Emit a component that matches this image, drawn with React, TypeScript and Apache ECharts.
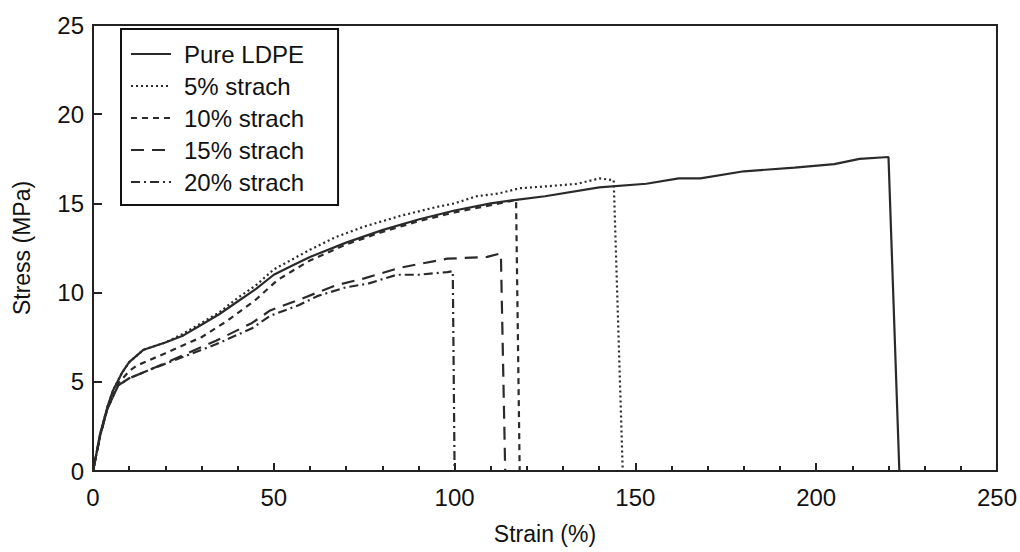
import React, { useEffect, useRef } from "react";
import * as echarts from "echarts";

// Pure LDPE
const strainPure = [0, 0.5, 2, 4, 5.5, 8, 10, 14, 20, 25, 30, 35, 40, 45, 50, 55, 60, 70, 80, 90, 100, 110, 117, 125, 140, 153, 162, 168, 180, 194, 205, 212, 220, 223];
const stressPure = [0, 0.5, 2.1, 3.6, 4.5, 5.5, 6.1, 6.8, 7.2, 7.6, 8.2, 8.8, 9.5, 10.2, 11.0, 11.5, 12.0, 12.8, 13.5, 14.1, 14.6, 15.0, 15.2, 15.4, 15.9, 16.1, 16.4, 16.4, 16.8, 17.0, 17.2, 17.5, 17.6, 0];
// 5% strach
const strain5 = [0, 0.5, 2, 4, 5.5, 8, 10, 14, 20, 25, 30, 35, 40, 45, 50, 60, 67, 75, 85, 95, 100, 106, 112, 118, 125, 134, 140, 144, 146.5];
const stress5 = [0, 0.5, 2.1, 3.6, 4.5, 5.5, 6.1, 6.8, 7.2, 7.7, 8.3, 8.9, 9.7, 10.4, 11.3, 12.4, 13.1, 13.7, 14.3, 14.8, 15.0, 15.4, 15.55, 15.85, 15.95, 16.1, 16.4, 16.3, 0];
// 10% strach
const strain10 = [0, 2, 4, 7, 10, 12, 20, 30, 37, 45, 51, 55, 60, 70, 80, 90, 100, 110, 117, 118];
const stress10 = [0, 2.0, 3.5, 4.9, 5.6, 5.9, 6.6, 7.5, 8.4, 9.6, 10.7, 11.2, 11.8, 12.7, 13.4, 14.0, 14.5, 14.9, 15.2, 0];
// 15% strach
const strain15 = [0, 2, 4, 7, 10, 16, 25, 34, 44, 49, 57, 67, 75, 85, 98, 109, 112.8, 114];
const stress15 = [0, 2, 3.5, 4.8, 5.2, 5.7, 6.5, 7.3, 8.3, 9.0, 9.6, 10.4, 10.8, 11.4, 11.9, 12.0, 12.2, 0];
// 20% strach
const strain20 = [0, 2, 4, 7, 10, 16, 25, 34, 44, 49, 57, 62, 70, 76, 84, 90, 98, 99.5, 100];
const stress20 = [0, 2, 3.5, 4.8, 5.2, 5.7, 6.4, 7.1, 8.0, 8.7, 9.3, 9.8, 10.3, 10.5, 11.0, 11.0, 11.15, 11.2, 0];

const seriesNames = ["Pure LDPE", "5% strach", "10% strach", "15% strach", "20% strach"];
const xTitle = "Strain (%)";
const yTitle = "Stress (MPa)";

const FONT = "Liberation Sans, Arial, sans-serif";
const INK = "#222";

function zip(xs: number[], ys: number[]) {
  return xs.map((x, i) => [x, ys[i]]);
}

export default function App() {
  const ref = useRef<HTMLDivElement>(null);
  useEffect(() => {
    if (!ref.current) return;
    const chart = echarts.init(ref.current, undefined, { renderer: "svg" });
    const dashes: any[] = ["solid", [2, 3], [6, 5], [13, 8], [9, 4, 2, 4]];
    const datasets = [
      zip(strainPure, stressPure),
      zip(strain5, stress5),
      zip(strain10, stress10),
      zip(strain15, stress15),
      zip(strain20, stress20),
    ];
    chart.setOption({
      animation: false,
      backgroundColor: "#fff",
      grid: {
        left: 93,
        right: 18,
        top: 25,
        bottom: 81,
        show: true,
        borderColor: INK,
        borderWidth: 2,
        containLabel: false,
      },
      legend: {
        left: 121,
        top: 29,
        orient: "vertical",
        backgroundColor: "#fff",
        borderColor: "#111",
        borderWidth: 2,
        borderRadius: 0,
        padding: [13, 34, 11, 9],
        itemWidth: 40,
        itemHeight: 14,
        itemGap: 8,
        itemStyle: { color: "transparent", borderWidth: 0, opacity: 0 },
        textStyle: {
          fontFamily: FONT,
          fontSize: 24,
          lineHeight: 24,
          color: "#111",
          padding: [0, 0, 0, 8],
        },
        data: seriesNames,
      },
      xAxis: {
        type: "value",
        min: 0,
        max: 250,
        interval: 50,
        name: xTitle,
        nameLocation: "middle",
        nameGap: 51,
        nameTextStyle: { fontFamily: FONT, fontSize: 23, color: "#111" },
        axisLine: { show: true, lineStyle: { color: INK, width: 2 } },
        axisTick: { show: true, inside: true, length: 8, lineStyle: { color: INK, width: 2 } },
        minorTick: { show: true, splitNumber: 5, length: 5, lineStyle: { color: INK, width: 2 } },
        axisLabel: { fontFamily: FONT, fontSize: 24, color: "#111", margin: 14 },
        splitLine: { show: false },
      },
      yAxis: {
        type: "value",
        min: 0,
        max: 25,
        interval: 5,
        name: yTitle,
        nameLocation: "middle",
        nameGap: 60,
        nameTextStyle: { fontFamily: FONT, fontSize: 23, color: "#111" },
        axisLine: { show: true, lineStyle: { color: INK, width: 2 } },
        axisTick: { show: true, inside: true, length: 9, lineStyle: { color: INK, width: 2 } },
        axisLabel: { fontFamily: FONT, fontSize: 24, color: "#111", margin: 9 },
        splitLine: { show: false },
      },
      series: seriesNames.map((name, i) => ({
        name,
        type: "line",
        data: datasets[i],
        showSymbol: false,
        symbol: "none",
        color: "#2a2a2a",
        lineStyle: { color: "#2a2a2a", width: 2.2, type: dashes[i] },
        z: 5 - i,
      })),
    });
    return () => chart.dispose();
  }, []);
  return <div ref={ref} style={{ position: "fixed", left: 0, top: 0, width: 1020, height: 552 }} />;
}
